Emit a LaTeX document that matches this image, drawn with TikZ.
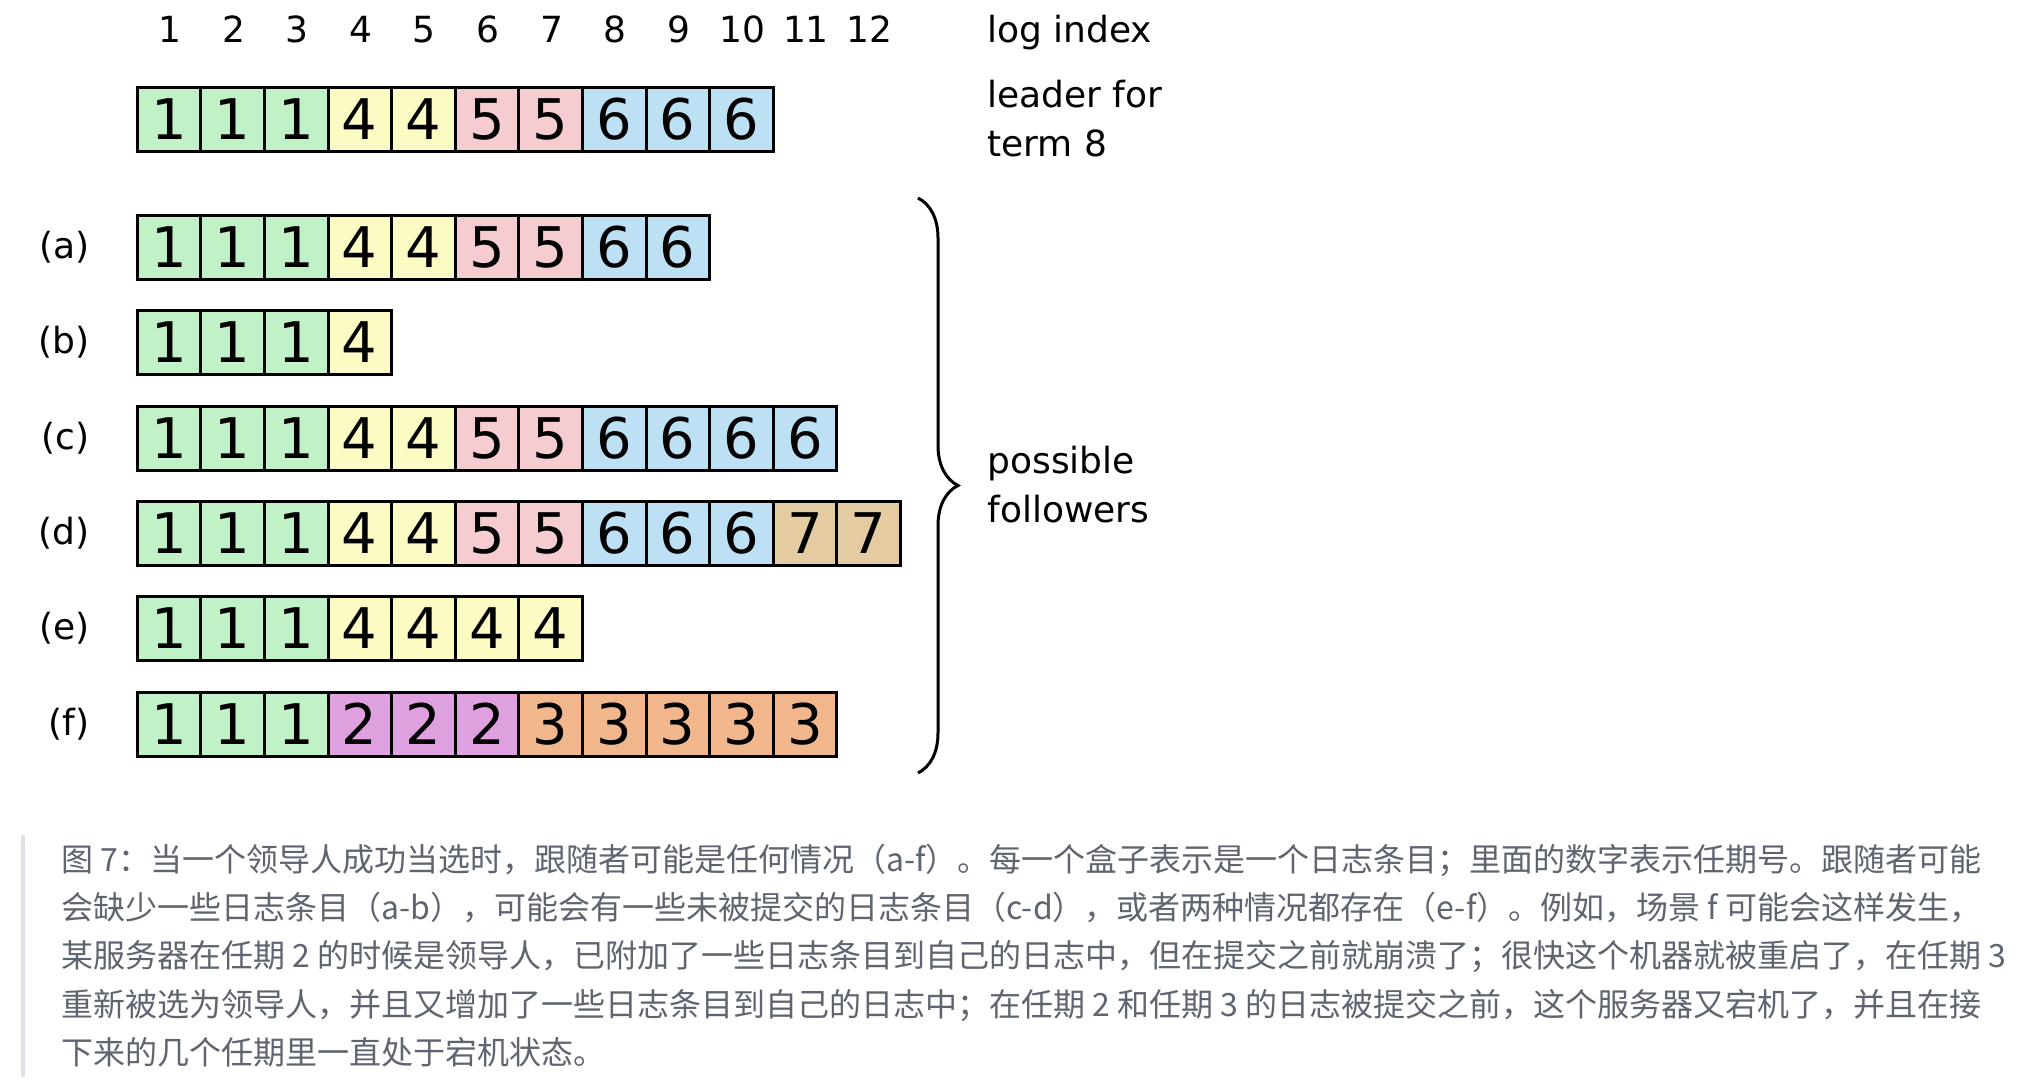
\documentclass[tikz,border=0pt]{standalone}
\usepackage{fontspec}
\setmainfont{DejaVu Sans}
\newfontfamily\cjk{Noto Sans CJK SC}
\usetikzlibrary{positioning, decorations.pathreplacing}
\definecolor{term1}{RGB}{193, 241, 198}
\definecolor{term2}{RGB}{222, 160, 222}
\definecolor{term3}{RGB}{242, 182, 140}
\definecolor{term4}{RGB}{253, 251, 196}
\definecolor{term5}{RGB}{245, 205, 208}
\definecolor{term6}{RGB}{189, 224, 244}
\definecolor{term7}{RGB}{228, 203, 162}
\definecolor{captiongray}{RGB}{94, 100, 112}
\definecolor{quotebar}{RGB}{222, 225, 230}
\tikzstyle{entry} = [rectangle, draw=black, line width=1.5pt, minimum width=31.8pt, minimum height=32pt, inner sep=0pt, font=\fontsize{28}{28}\selectfont]
\tikzstyle{rowlabel} = [inner sep=0pt, font=\fontsize{18}{18}\selectfont]
\tikzstyle{note} = [align=left, anchor=west, inner sep=0pt, font=\fontsize{18}{24.5}\selectfont]
\tikzstyle{caption} = [anchor=base west, inner sep=0pt, text=captiongray, font=\cjk\fontsize{16}{16}\selectfont]
\newcommand{\logrow}[3]{%
  \foreach \t [count=\i] in {#3} {
    \node (#1-\i) [entry, fill=term\t] at ({169+63.6*(\i-1)}, #2) {\t};
  }
}

\begin{document}
\begin{tikzpicture}[x=0.5pt, y=-0.5pt]
\useasboundingbox (0,0) rectangle (2036,1082);

% Log index
\foreach \i in {1,...,12}
  \node (idx-\i) [rowlabel, anchor=base] at ({170+63.6*(\i-1)}, 42) {\i};
\node (idx-text) [rowlabel, anchor=base west] at (987, 42) {log index};

% Leader
\logrow{lead}{119}{1,1,1,4,4,5,5,6,6,6}
\node (lead-text) [note] at (987, 119) {leader for\\term 8};

% Followers
\logrow{a}{247}{1,1,1,4,4,5,5,6,6}
\logrow{b}{342}{1,1,1,4}
\logrow{c}{438}{1,1,1,4,4,5,5,6,6,6,6}
\logrow{d}{533}{1,1,1,4,4,5,5,6,6,6,7,7}
\logrow{e}{628}{1,1,1,4,4,4,4}
\logrow{f}{724}{1,1,1,2,2,2,3,3,3,3,3}
\foreach \r in {a,b,c,d,e,f}
  \node (lab-\r) [rowlabel, left=23pt of \r-1] {(\r)};

% Brace
\coordinate (brace-top) at (918, 198);
\coordinate (brace-bot) at (918, 773);
\draw [line width=1.5pt, decorate, decoration={brace, amplitude=20pt, aspect=0.5}] (brace-top) -- (brace-bot);
\node (follow-text) [note] at (987, 485) {possible\\followers};

% Caption
\draw [quotebar, line width=2pt] (23, 835) -- (23, 1077);
\node (cap-1) [caption] at (61, 871) {图 7：当一个领导人成功当选时，跟随者可能是任何情况（a-f）。每一个盒子表示是一个日志条目；里面的数字表示任期号。跟随者可能};
\node (cap-2) [caption] at (61, 919) {会缺少一些日志条目（a-b），可能会有一些未被提交的日志条目（c-d），或者两种情况都存在（e-f）。例如，场景 f 可能会这样发生，};
\node (cap-3) [caption] at (61, 967) {某服务器在任期 2 的时候是领导人，已附加了一些日志条目到自己的日志中，但在提交之前就崩溃了；很快这个机器就被重启了，在任期 3};
\node (cap-4) [caption] at (61, 1016) {重新被选为领导人，并且又增加了一些日志条目到自己的日志中；在任期 2 和任期 3 的日志被提交之前，这个服务器又宕机了，并且在接};
\node (cap-5) [caption] at (61, 1064) {下来的几个任期里一直处于宕机状态。};

\end{tikzpicture}
\end{document}
